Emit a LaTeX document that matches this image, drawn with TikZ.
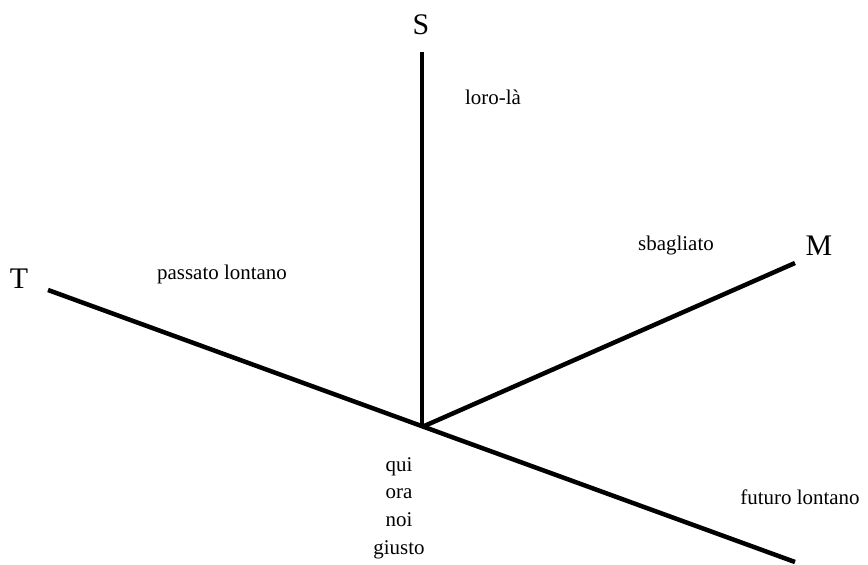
\documentclass[tikz,border=0pt]{standalone}
\usepackage{fontspec}
\setmainfont{Liberation Serif}
\usepackage{tikz}
\usetikzlibrary{calc}
\tikzset{
  axisline/.style={line width=4.5bp, black},
  axislabel/.style={font=\fontsize{30}{33}\selectfont, inner sep=0pt},
  zonelabel/.style={font=\fontsize{21}{24}\selectfont, inner sep=0pt},
}

\begin{document}
\begin{tikzpicture}[x=1bp, y=-1bp]
  \useasboundingbox (0,0) rectangle (868,565);

  % 1. Origin and axis ends
  \coordinate (O) at (422,427);
  \coordinate (Stop) at (422,52);
  \coordinate (Tpast) at (48,290);
  \coordinate (Tfut) at (795,562);
  \coordinate (Mend) at (795,263);

  % 2. Axes
  \draw[axisline] (O) -- (Stop);
  \draw[axisline] (Tpast) -- (Tfut);
  \draw[axisline] (O) -- (Mend);

  % 3. Axis names
  \node[axislabel] (S) at (421,25) {S};
  \node[axislabel] (T) at (19,279) {T};
  \node[axislabel] (M) at (819,246) {M};

  % 4. Regions
  \node[zonelabel] (lorola) at (493,97) {loro-là};
  \node[zonelabel] (sbagliato) at (676,245) {sbagliato};
  \node[zonelabel] (passato) at (222,274) {passato lontano};
  \node[zonelabel] (futuro) at (800,497) {futuro lontano};
  \node[zonelabel, align=center, font=\fontsize{21}{27.7}\selectfont] (qui) at (399,508)
    {qui\\ora\\noi\\giusto};
\end{tikzpicture}
\end{document}
